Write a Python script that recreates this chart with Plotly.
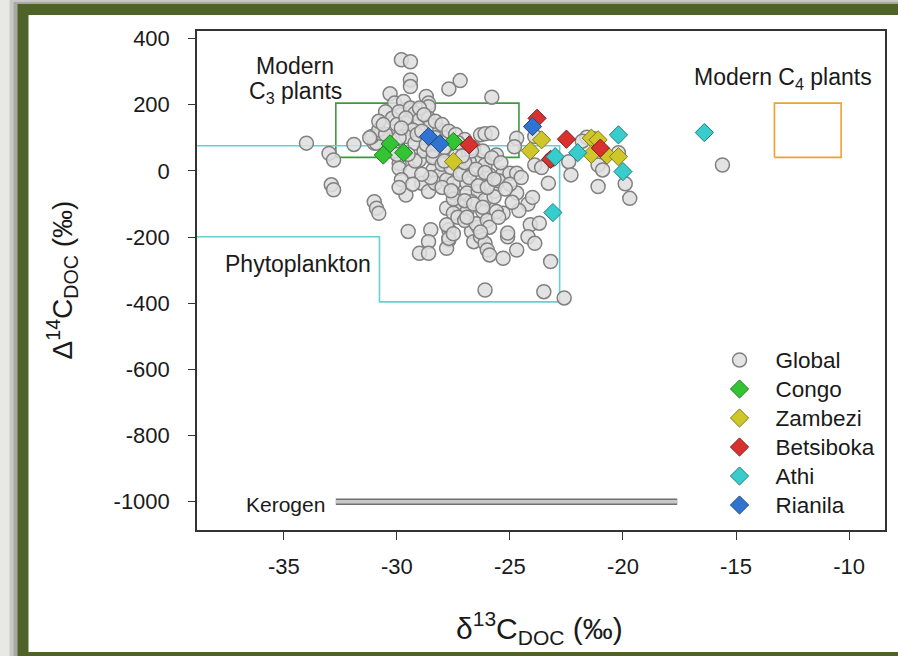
import plotly.graph_objects as go

# ---------------- data ----------------
GLOBAL_X = [-29.8, -29.4, -29.4, -29.4, -27.2, -27.7, -30.3, -25.8, -34.0, -31.9,
            -33.0, -32.8, -32.9, -32.8, -31.0, -30.9, -30.8, -29.5, -28.5, -28.6,
            -29.0, -28.6, -27.7, -27.7, -27.8, -26.7, -26.6, -26.3, -26.1, -26.0,
            -25.9, -25.1, -25.3, -24.7, -24.1, -23.7, -24.2, -23.9, -23.2, -26.1,
            -23.5, -22.6, -24.7, -24.8, -23.9, -23.9, -23.3, -24.7, -25.3, -22.4,
            -22.3, -21.6, -21.1, -20.9, -21.1, -19.9, -19.7, -23.2, -15.6, -25.9,
            -25.7, -25.1, -28.7, -28.6, -28.6, -30.1, -29.7, -30.5, -30.2, -29.9,
            -29.4, -29.2, -29.0, -29.6, -29.3, -28.6, -28.5, -28.1, -28.0, -30.8,
            -31.0, -30.3, -29.6, -29.2, -27.8, -27.4, -26.3, -26.1, -25.8, -25.6,
            -26.4, -26.8, -28.3, -29.0, -29.9, -29.9, -29.4, -29.8, -28.9, -28.6,
            -29.6, -28.4, -28.1, -28.3, -27.8, -27.5, -27.5, -27.1, -26.9, -26.9,
            -26.4, -26.4, -26.1, -26.1, -25.7, -26.7, -27.2, -27.8, -27.5, -26.9,
            -26.2, -25.6, -25.3, -25.0, -24.7, -27.8, -27.7, -26.4, -30.9, -31.1,
            -30.7, -30.8, -30.0, -29.6, -29.0, -28.8, -28.3, -28.0, -27.7, -27.4,
            -27.0, -26.6, -26.2, -25.8, -25.4, -28.8, -28.4, -28.0, -27.6, -27.2,
            -26.8, -26.4, -26.0, -25.5, -25.0, -24.5, -29.2, -29.5, -30.1, -30.5,
            -31.2, -30.8, -29.9, -29.1, -28.7, -28.3, -27.9, -27.4, -27.0, -26.5,
            -26.1, -28.5, -28.0, -27.5, -27.0, -26.6, -26.2, -27.3, -27.0, -26.5,
            -26.0, -25.9, -25.5, -26.3, -27.5, -24.2, -24.6, -28.9, -29.3, -29.9,
            -28.2, -27.3, -26.7, -29.8, -30.6, -28.9, -27.9, -27.1, -25.2, -24.9,
            -24.0, -23.6, -21.3, -20.2, -21.8, -30.0, -28.4, -27.6, -26.9, -25.7]
GLOBAL_Y = [336, 330, 275, 255, 273, 248, 233, 223, 84, 80,
            53, 33, -42, -57, -93, -113, -128, -183, -178, -214,
            -249, -249, -178, -209, -234, -183, -214, -199, -219, -239,
            -254, -199, -264, -239, -163, -158, -199, -219, -274, -360,
            -365, -384, 99, 73, 104, 18, -37, -67, -128, 28,
            -12, 102, 18, 3, -47, -39, -83, 33, 18, -12,
            -62, -188, 225, 205, 194, 205, 210, 179, 159, 179,
            190, 174, 154, 144, 124, 159, 139, 124, 104, 119,
            84, 94, 104, 84, 64, 58, 109, 112, 114, 48,
            33, 28, 43, 33, 23, 8, -2, -27, -37, -62,
            -73, 3, -12, -37, -27, -37, -67, -2, -37, -67,
            -27, -62, 18, -88, -78, -93, -108, -113, -128, -123,
            -123, -123, -7, -7, -7, -163, -204, -170, 84, 104,
            114, 124, 140, 160, 190, 170, 150, 140, 120, 110,
            95, 70, 60, 40, 25, 60, 40, 20, 10, -10,
            -20, -45, -50, -30, -40, -20, 30, 50, 60, 110,
            100, 150, 100, 110, 80, 100, 70, 45, 25, 5,
            -5, -20, -50, -85, -90, -100, -110, -140, -150, -160,
            -150, -170, -140, -185, -190, -100, -120, -10, -40, -50,
            80, 85, 60, 130, 140, 120, 30, 45, -55, -95,
            -80, 10, 97, 55, 90, 50, 60, -60, -140, -25]

CONGO_X = [-30.3, -30.6, -29.7, -27.5]
CONGO_Y = [82, 48, 55, 89]
ZAMBEZI_X = [-27.5, -23.6, -24.1, -21.4, -21.1, -21.4, -20.7, -20.2]
ZAMBEZI_Y = [28, 94, 61, 99, 94, 50, 48, 43]
BETSIBOKA_X = [-26.8, -23.8, -22.5, -23.2, -21.0]
BETSIBOKA_Y = [79, 159, 96, 35, 69]
ATHI_X = [-23.0, -22.0, -20.2, -20.0, -23.1, -16.4]
ATHI_Y = [43, 55, 109, -2, -126, 116]
RIANILA_X = [-28.6, -28.1, -24.0]
RIANILA_Y = [104, 82, 134]

# end-member ranges
C3_X = [-32.7, -24.6]
C3_Y = [41, 205]
C4_X = [-13.3, -10.35]
C4_Y = [41, 205]
PHYTO_X = [-40, -22.8, -22.8, -30.77, -30.77, -40]
PHYTO_Y = [76, 76, -396, -396, -199, -199]
KEROGEN_X = [-32.7, -17.6]
KEROGEN_Y = [-1000, -1000]

X_TICKS = [-35, -30, -25, -20, -15, -10]
Y_TICKS = [400, 200, 0, -200, -400, -600, -800, -1000]

FONT = "Arial, Liberation Sans, sans-serif"
TXT = "#1a1a1a"

fig = go.Figure()

def box(xr, yr):
    return [xr[0], xr[1], xr[1], xr[0], xr[0]], [yr[0], yr[0], yr[1], yr[1], yr[0]]

bx, by = box(C3_X, C3_Y)
fig.add_trace(go.Scatter(x=bx, y=by, mode="lines", line=dict(color="#3c9a3c", width=1.6),
                         showlegend=False, hoverinfo="skip"))
bx, by = box(C4_X, C4_Y)
fig.add_trace(go.Scatter(x=bx, y=by, mode="lines", line=dict(color="#f0a030", width=1.6),
                         showlegend=False, hoverinfo="skip"))
fig.add_trace(go.Scatter(x=PHYTO_X, y=PHYTO_Y, mode="lines", line=dict(color="#66d0d0", width=1.6),
                         showlegend=False, hoverinfo="skip"))
fig.add_trace(go.Scatter(x=KEROGEN_X, y=KEROGEN_Y, mode="lines", line=dict(color="#707070", width=6.5),
                         showlegend=False, hoverinfo="skip"))
fig.add_trace(go.Scatter(x=KEROGEN_X, y=KEROGEN_Y, mode="lines", line=dict(color="#c8c8c8", width=3.5),
                         showlegend=False, hoverinfo="skip"))

LEG_SPAN = "<span style='font-size:22.5px'>%s</span>"

fig.add_trace(go.Scatter(x=GLOBAL_X, y=GLOBAL_Y, mode="markers", name=LEG_SPAN % "Global",
                         legendgroup="g1",
                         marker=dict(symbol="circle", size=14, color="rgba(222,222,222,0.85)",
                                     line=dict(color="#808080", width=1.5))))

series = [
    ("Congo", CONGO_X, CONGO_Y, "#33c433", "#1f7a1f"),
    ("Zambezi", ZAMBEZI_X, ZAMBEZI_Y, "#cfc72a", "#7f7a1a"),
    ("Betsiboka", BETSIBOKA_X, BETSIBOKA_Y, "#d93030", "#7f1c1c"),
    ("Athi", ATHI_X, ATHI_Y, "#38cccc", "#1f7f7f"),
    ("Rianila", RIANILA_X, RIANILA_Y, "#2f74d0", "#1c4a86"),
]
for i, (nm, xs, ys, c, lc) in enumerate(series):
    fig.add_trace(go.Scatter(x=xs, y=ys, mode="markers", name=LEG_SPAN % nm, legendgroup="g%d" % (i + 2),
                             marker=dict(symbol="diamond", size=14, color=c,
                                         line=dict(color=lc, width=1))))

# ---- frame (paper coords) ----
def px2x(px):
    return (px - 197) / 690.0

def py2y(py):
    return (530 - py) / 499.0

shapes = [
    dict(type="rect", xref="paper", yref="paper", x0=px2x(-5), x1=px2x(910), y0=py2y(665), y1=py2y(-5),
         fillcolor="#e8e8e4", line=dict(width=0), layer="below"),
    dict(type="rect", xref="paper", yref="paper", x0=px2x(9), x1=px2x(910), y0=py2y(665), y1=py2y(-1),
         fillcolor="#c8c8c4", line=dict(width=0), layer="below"),
    dict(type="rect", xref="paper", yref="paper", x0=px2x(13), x1=px2x(910), y0=py2y(665), y1=py2y(2),
         fillcolor="#a8a8a4", line=dict(width=0), layer="below"),
    dict(type="rect", xref="paper", yref="paper", x0=px2x(17), x1=px2x(910), y0=py2y(665), y1=py2y(4),
         fillcolor="#4f6228", line=dict(width=0), layer="below"),
    dict(type="rect", xref="paper", yref="paper", x0=px2x(28), x1=px2x(910), y0=py2y(652), y1=py2y(15),
         fillcolor="#ffffff", line=dict(width=0), layer="below"),
]

annotations = [
    dict(x=-34.5, y=318, xref="x", yref="y", text="Modern", showarrow=False,
         font=dict(size=23, color=TXT, family=FONT)),
    dict(x=-34.5, y=238, xref="x", yref="y", text="C<sub>3</sub> plants", showarrow=False,
         font=dict(size=23, color=TXT, family=FONT)),
    dict(x=-12.9, y=278, xref="x", yref="y", text="Modern C<sub>4</sub> plants", showarrow=False,
         font=dict(size=23, color=TXT, family=FONT)),
    dict(x=-34.38, y=-281, xref="x", yref="y", text="Phytoplankton", showarrow=False,
         font=dict(size=23, color=TXT, family=FONT)),
    dict(x=-33.1, y=-1008, xref="x", yref="y", text="Kerogen", showarrow=False, xanchor="right",
         font=dict(size=21, color=TXT, family=FONT)),
    dict(x=px2x(62), y=py2y(280), xref="paper", yref="paper", textangle=-90,
         xanchor="center", yanchor="middle",
         text="\u0394<sup>14</sup>C<sub>DOC</sub> (\u2030)", showarrow=False,
         font=dict(size=28, color=TXT, family=FONT)),
    dict(x=px2x(540), y=py2y(628), xref="paper", yref="paper",
         xanchor="center", yanchor="middle",
         text="\u03b4<sup>13</sup>C<sub>DOC</sub> (\u2030)", showarrow=False,
         font=dict(size=30, color=TXT, family=FONT)),
]

fig.update_layout(
    width=898, height=656,
    margin=dict(l=197, r=11, t=31, b=126),
    paper_bgcolor="#ffffff", plot_bgcolor="#ffffff",
    font=dict(family=FONT, color=TXT),
    shapes=shapes, annotations=annotations,
    showlegend=True,
    legend=dict(x=px2x(705), y=py2y(340.5), xanchor="left", yanchor="top",
                bgcolor="rgba(0,0,0,0)", font=dict(size=20, family=FONT, color=TXT),
                itemwidth=62, tracegroupgap=0),
)
fig.update_xaxes(range=[-38.84, -8.41], tickvals=X_TICKS, ticktext=[str(v) for v in X_TICKS],
                 ticks="outside", ticklen=8, tickcolor="#333", tickwidth=1.2,
                 showline=True, mirror=True, linecolor="#333", linewidth=1.5,
                 showgrid=False, zeroline=False, ticklabelstandoff=8,
                 tickfont=dict(size=22, family=FONT, color=TXT))
fig.update_yaxes(range=[-1085.6, 423], tickvals=Y_TICKS, ticktext=[str(v) for v in Y_TICKS],
                 ticks="outside", ticklen=7, tickcolor="#333", tickwidth=1.2,
                 showline=True, mirror=True, linecolor="#333", linewidth=1.5,
                 showgrid=False, zeroline=False, ticklabelstandoff=14,
                 tickfont=dict(size=22, family=FONT, color=TXT))

fig.write_html("out.html")
